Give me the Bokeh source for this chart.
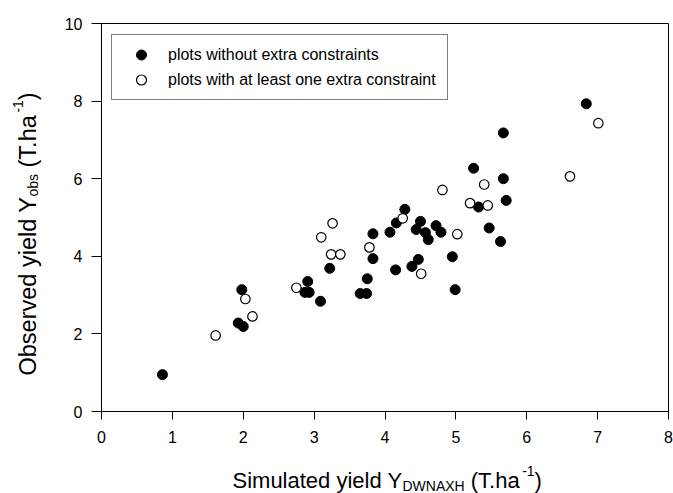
import math
from bokeh.plotting import figure
from bokeh.layouts import row, column
from bokeh.models import Range1d, FixedTicker, Legend, LegendItem, Label
from bokeh.embed import file_html
from bokeh.resources import INLINE

# ---- data ----
sim_plain = [0.86, 1.93, 2.00, 1.98, 2.87, 2.93, 2.91, 3.09, 3.22, 3.65, 3.74, 3.75,
             3.83, 3.83, 4.07, 4.16, 4.28, 4.50, 4.44, 4.57, 4.61, 4.72, 4.79, 5.47,
             5.63, 4.95, 4.47, 4.38, 4.15, 4.99, 5.32, 5.71, 5.67, 5.25, 5.67, 6.84]
obs_plain = [0.95, 2.28, 2.19, 3.14, 3.07, 3.07, 3.35, 2.84, 3.69, 3.04, 3.04, 3.42,
             3.94, 4.58, 4.62, 4.86, 5.21, 4.90, 4.69, 4.61, 4.43, 4.79, 4.62, 4.73,
             4.38, 3.99, 3.92, 3.74, 3.65, 3.14, 5.27, 5.44, 6.00, 6.27, 7.18, 7.93]
sim_extra = [1.61, 2.03, 2.13, 2.75, 3.24, 3.37, 3.78, 3.26, 3.10, 4.25, 4.51, 5.02,
             4.81, 5.20, 5.45, 5.40, 6.61, 7.01]
obs_extra = [1.96, 2.90, 2.45, 3.19, 4.05, 4.05, 4.23, 4.85, 4.49, 4.98, 3.55, 4.57,
             5.71, 5.37, 5.31, 5.85, 6.06, 7.43]
x_ticks = [0, 1, 2, 3, 4, 5, 6, 7, 8]
y_ticks = [0, 2, 4, 6, 8, 10]
legend_labels = ["plots without extra constraints", "plots with at least one extra constraint"]

# ---- layout (page pixels) ----
W, H = 673, 493
LEFT_W = 60          # strip holding the y title
MAIN_H = 450         # main figure height; strip below holds the x title
FL, FR, FT, FB = 101, 668, 23, 411   # frame edges on the page
FONT = "Liberation Sans"

main = figure(width=W - LEFT_W, height=MAIN_H, x_range=Range1d(0, 8), y_range=Range1d(0, 10),
              output_backend="svg", toolbar_location=None,
              min_border_left=FL - LEFT_W, min_border_right=W - FR,
              min_border_top=FT, min_border_bottom=MAIN_H - FB)
main.grid.visible = False
main.outline_line_color = "black"
main.outline_line_width = 1
main.background_fill_color = "white"
main.border_fill_color = "white"

for ax, ticks, tout, stand in ((main.xaxis, x_ticks, 8, 11), (main.yaxis, y_ticks, 10, 9)):
    ax.ticker = FixedTicker(ticks=ticks, minor_ticks=[])
    ax.major_tick_in = 0
    ax.major_tick_out = tout
    ax.minor_tick_out = 0
    ax.minor_tick_in = 0
    ax.major_tick_line_color = "black"
    ax.axis_line_color = "black"
    ax.major_label_text_font = FONT
    ax.major_label_text_font_size = "16px"
    ax.major_label_text_color = "black"
    ax.major_label_standoff = stand

r1 = main.scatter(sim_plain, obs_plain, marker="circle", size=10,
                  fill_color="black", line_color="black", line_width=1)
r2 = main.scatter(sim_extra, obs_extra, marker="circle", size=9.5,
                  fill_color="white", line_color="black", line_width=1.2)

legend = Legend(items=[LegendItem(label=legend_labels[0], renderers=[r1]),
                       LegendItem(label=legend_labels[1], renderers=[r2])],
                location=(10, 311), padding=7, spacing=-5,
                glyph_width=44, glyph_height=25, label_height=20, label_standoff=5,
                label_width=272,
                label_text_font=FONT, label_text_font_size="16px", label_text_color="black",
                border_line_color="black", border_line_width=1,
                background_fill_color="white", background_fill_alpha=1.0)
main.add_layout(legend)

# ---- strips for the axis titles (data coordinates = page pixels) ----
def strip(w, h, bl, br, bt, bb, x0, x1, y_top, y_bottom):
    f = figure(width=w, height=h, x_range=Range1d(x0, x1), y_range=Range1d(y_bottom, y_top),
               output_backend="svg", toolbar_location=None,
               x_axis_type=None, y_axis_type=None,
               min_border_left=bl, min_border_right=br, min_border_top=bt, min_border_bottom=bb)
    f.grid.visible = False
    f.outline_line_color = None
    f.background_fill_color = "white"
    f.border_fill_color = "white"
    return f

left = strip(LEFT_W, H, 0, 0, FT, H - FB, 0, LEFT_W, FT, FB)
bottom = strip(W - LEFT_W, H - MAIN_H, FL - LEFT_W, W - FR, 0, 0, FL, FR, MAIN_H, H)

ADV = {'S': 667, 'i': 222, 'm': 833, 'u': 556, 'l': 222, 'a': 556, 't': 278, 'e': 556,
       'd': 556, ' ': 278, 'y': 500, 'Y': 667, 'D': 722, 'W': 944, 'N': 722, 'A': 667,
       'X': 667, 'H': 722, '(': 333, 'T': 611, '.': 278, 'h': 556, '-': 333, '1': 556,
       ')': 333, 'O': 778, 'b': 556, 's': 500, 'r': 333, 'v': 500, 'o': 556}

def tw(s, size):
    return sum(ADV.get(c, 556) for c in s) * size / 1000.0

SHIFT = 7.5  # measured offset between requested and drawn baseline
XF, YF, SMALL_F = 22, 23.5, 14
x_pieces = [("Simulated yield Y", XF, 0), ("DWNAXH", SMALL_F, 5.5),
            (" (T.ha", XF, 0), ("-1", SMALL_F, -9), (")", XF, 0)]
y_pieces = [("Observed yield Y", YF, 0), ("obs", SMALL_F, 5),
            (" (T.ha", YF, 0), ("-1", SMALL_F, -9.5), (")", YF, 0)]

cur, base = 232.0, 487.0 - SHIFT
for txt, sz, shift in x_pieces:
    lead = len(txt) - len(txt.lstrip(" "))
    cur += tw(" " * lead, sz)
    t = txt.lstrip(" ")
    bottom.add_layout(Label(x=cur, y=base + shift, text=t, text_font=FONT,
                            text_font_size=f"{sz}px", text_color="black",
                            text_align="left", text_baseline="alphabetic"))
    cur += tw(t, sz)

cur, base = 375.0, 34.5 - SHIFT
for txt, sz, shift in y_pieces:
    lead = len(txt) - len(txt.lstrip(" "))
    cur -= tw(" " * lead, sz)
    t = txt.lstrip(" ")
    left.add_layout(Label(x=base + shift, y=cur, text=t, text_font=FONT,
                          text_font_size=f"{sz}px", text_color="black", angle=math.pi / 2,
                          text_align="left", text_baseline="alphabetic"))
    cur -= tw(t, sz)

layout = row(left, column(main, bottom))
open("out.html", "w").write(file_html(layout, INLINE))
